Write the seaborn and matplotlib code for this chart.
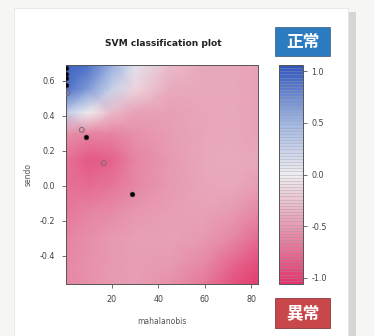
import numpy as np
import pandas as pd
import matplotlib
matplotlib.use("Agg")
import matplotlib.pyplot as plt
from matplotlib.colors import LinearSegmentedColormap, Normalize
from matplotlib.patches import Rectangle
import matplotlib.cm as cm
import seaborn as sns

sns.set_style("white")
plt.rcParams['font.family'] = ['DejaVu Sans', 'Noto Sans CJK JP']

# ---- data ----
grid_x = [0.3, 10, 20, 30, 45, 60, 72, 83]
grid_y = [0.69, 0.55, 0.42, 0.30, 0.15, 0.0, -0.15, -0.30, -0.45, -0.56]
decision = [
    [1.00, 0.90, 0.55, 0.10, -0.30, -0.42, -0.42, -0.45],
    [0.90, 0.65, 0.25, -0.15, -0.40, -0.42, -0.42, -0.45],
    [0.30, 0.00, -0.30, -0.45, -0.47, -0.43, -0.42, -0.45],
    [-0.55, -0.62, -0.62, -0.55, -0.48, -0.43, -0.42, -0.45],
    [-0.72, -0.85, -0.80, -0.62, -0.50, -0.42, -0.40, -0.42],
    [-0.72, -0.75, -0.70, -0.60, -0.50, -0.43, -0.42, -0.48],
    [-0.68, -0.62, -0.58, -0.52, -0.47, -0.45, -0.50, -0.60],
    [-0.62, -0.56, -0.50, -0.47, -0.46, -0.50, -0.60, -0.75],
    [-0.60, -0.54, -0.50, -0.48, -0.50, -0.60, -0.78, -0.92],
    [-0.60, -0.55, -0.50, -0.48, -0.55, -0.68, -0.88, -1.00],
]
pt_x = [0.5, 0.5, 0.5, 0.5, 1.0, 7.1, 8.9, 16.6, 28.6]
pt_y = [0.675, 0.64, 0.615, 0.575, 0.53, 0.32, 0.28, 0.13, -0.046]
pt_kind = ["sv", "sv", "sv", "sv", "data", "data", "sv", "data", "sv"]

x_ticks = [20, 40, 60, 80]
y_ticks = [-0.4, -0.2, 0.0, 0.2, 0.4, 0.6]
cb_ticks = [-1.0, -0.5, 0.0, 0.5, 1.0]
title = "SVM classification plot"
x_label = "mahalanobis"
y_label = "sendo"
label_top = "正常"
label_bottom = "異常"

# ---- figure ----
W, H = 374, 336
fig = plt.figure(figsize=(W / 100, H / 100), dpi=100)
fig.patch.set_facecolor("#f6f6f4")

# card with shadow
fig.patches.append(Rectangle((20 / W, -0.02), 336 / W, 1 - 12 / H + 0.02,
                             transform=fig.transFigure, facecolor="#9a9a9a",
                             alpha=0.35, edgecolor="none", zorder=-3))
fig.patches.append(Rectangle((14 / W, -0.02), 334 / W, 1 - 8 / H + 0.02,
                             transform=fig.transFigure, facecolor="white",
                             edgecolor="#e6e6e6", lw=0.6, zorder=-2))

cmap = LinearSegmentedColormap.from_list(
    "svm",
    [(0.0, "#e3336a"), (0.26, "#e799b0"), (0.5, "#efedf0"),
     (0.74, "#a0b6e2"), (1.0, "#2f56bd")])
vmin, vmax = -1.06, 1.06
norm = Normalize(vmin, vmax)

ax = fig.add_axes([66 / W, 1 - 284 / H, (258 - 66) / W, (284 - 65) / H])
X, Y = np.meshgrid(grid_x, grid_y)
Z = np.array(decision)
ax.pcolormesh(X, Y, Z, shading="gouraud", cmap=cmap, norm=norm,
              rasterized=True)

df = pd.DataFrame({"x": pt_x, "y": pt_y, "kind": pt_kind})
sns.scatterplot(data=df[df.kind == "sv"], x="x", y="y", ax=ax, s=12,
                color="black", edgecolor="#333333", linewidth=0.4, legend=False,
                zorder=3)
sns.scatterplot(data=df[df.kind == "data"], x="x", y="y", ax=ax, s=12,
                facecolor="none", edgecolor="#7a6a70", linewidth=0.7,
                legend=False, zorder=3)

ax.set_xlim(0.3, 83)
ax.set_ylim(-0.56, 0.69)
ax.set_xticks(x_ticks)
ax.set_yticks(y_ticks)
ax.set_xticklabels([str(v) for v in x_ticks])
ax.set_yticklabels([f"{v:.1f}" for v in y_ticks])
ax.tick_params(direction="out", length=3, width=0.6, color="#555555",
               labelsize=5.8, labelcolor="#444444", pad=5, left=True, bottom=True)
for s in ax.spines.values():
    s.set_color("#555555")
    s.set_linewidth(0.7)
ax.set_xlabel(x_label, fontsize=5.5, color="#555555", labelpad=9)
ax.set_ylabel(y_label, fontsize=5.5, color="#555555", labelpad=5)
fig.text(163 / W, 1 - 44 / H, title, ha="center", va="center",
         fontsize=6.6, fontweight="bold", color="#222222")

# colorbar
cax = fig.add_axes([279 / W, 1 - 284 / H, 24 / W, (284 - 65) / H])
levels = np.linspace(-1.06, 1.06, 71)
sm = cm.ScalarMappable(norm=norm, cmap=cmap)
cb = fig.colorbar(sm, cax=cax, boundaries=levels, drawedges=True,
                  ticks=cb_ticks)
cb.dividers.set_color("#9a9aa6")
cb.dividers.set_alpha(0.55)
cb.dividers.set_linewidth(0.45)
cb.outline.set_edgecolor("#555555")
cb.outline.set_linewidth(0.7)
cax.set_yticklabels([f"{v:.1f}" for v in cb_ticks])
cax.tick_params(direction="out", length=3, width=0.6, color="#555555",
                labelsize=5.8, labelcolor="#444444", pad=3)

# label boxes
for (y0, y1, txt, col, ec) in [(27, 56, label_top, "#2a7bbf", "#4a6a88"),
                               (298, 328, label_bottom, "#c7474b", "#8a3a3a")]:
    fig.patches.append(Rectangle((275 / W, 1 - y1 / H), 55 / W, (y1 - y0) / H,
                                 transform=fig.transFigure, facecolor=col,
                                 edgecolor=ec, lw=0.6, zorder=2))
    fig.text(302.5 / W, 1 - (y0 + y1) / 2 / H, txt, ha="center", va="center",
             fontsize=12, color="white", fontweight="bold", zorder=3,
             family=["Noto Sans CJK JP", "DejaVu Sans"])

fig.savefig("out.png", dpi=100, facecolor=fig.get_facecolor())
